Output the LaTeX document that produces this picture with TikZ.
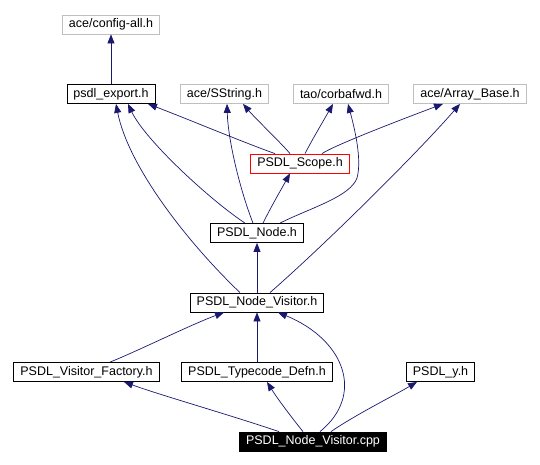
\documentclass[tikz,border=0pt]{standalone}
\usepackage{fontspec}
\setmainfont{Liberation Sans}
\usepackage{tikz}
\usetikzlibrary{arrows.meta, positioning, calc}
\definecolor{incblue}{HTML}{191970}
\definecolor{extgrey}{HTML}{BFBFBF}
\definecolor{scopered}{HTML}{FF0000}

\begin{document}
\begin{tikzpicture}[
  x=1pt, y=-1pt,
  every node/.style={rectangle, inner xsep=6.5pt, inner ysep=0pt, minimum height=19pt, line width=0.8pt, font=\fontsize{12.5}{14}\selectfont},
  ext file/.style={draw=extgrey},
  own file/.style={draw=black},
  start file/.style={draw=scopered},
  main file/.style={draw=black, fill=black, text=white},
  include/.style={draw=incblue, line width=0.7pt, -{Triangle[length=9pt, width=7pt]}}
]
\useasboundingbox (0,0) rectangle (540,465);

% files
\node[ext file] (config) at (111,24.5) {ace/config-all.h};
\node[own file] (export) at (111,94) {psdl\_export.h};
\node[ext file] (sstring) at (224.5,94) {ace/SString.h};
\node[ext file] (corbafwd) at (341,94) {tao/corbafwd.h};
\node[ext file] (arraybase) at (470,94) {ace/Array\_Base.h};
\node[start file] (scope) at (300,163.5) {PSDL\_Scope.h};
\node[own file] (psdlnode) at (257,233) {PSDL\_Node.h};
\node[own file] (visitor) at (257,302.5) {PSDL\_Node\_Visitor.h};
\node[own file] (factory) at (86.5,372) {PSDL\_Visitor\_Factory.h};
\node[own file] (typecode) at (257,372) {PSDL\_Typecode\_Defn.h};
\node[own file] (psdly) at (440.5,372) {PSDL\_y.h};
\node[main file] (cpp) at (313,441.5) {PSDL\_Node\_Visitor.cpp};

% includes
\draw[include] (export) -- (config);
\draw[include] ([xshift=-25pt]scope.north) .. controls (245,143) and (185,118) .. ([xshift=37pt]export.south);
\draw[include] ([xshift=-10pt]scope.north) .. controls (283,145) and (255,118) .. ([xshift=18.5pt]sstring.south);
\draw[include] ([xshift=5pt]scope.north) .. controls (312,140) and (325,118) .. ([xshift=-8pt]corbafwd.south);
\draw[include] ([xshift=22pt]scope.north) .. controls (335,145) and (400,120) .. ([xshift=-27pt]arraybase.south);
\draw[include] ([xshift=-12pt]psdlnode.north) .. controls (210,200) and (145,140) .. ([xshift=17pt]export.south);
\draw[include] ([xshift=-4pt]psdlnode.north) .. controls (240,190) and (228,140) .. ([xshift=2.5pt]sstring.south);
\draw[include] ([xshift=6pt]psdlnode.north) .. controls (272,205) and (282,188) .. ([xshift=-10pt]scope.south);
\draw[include] ([xshift=23pt]psdlnode.north) .. controls (310,208) and (350,197) .. (357,178)
  .. controls (362,160) and (355,130) .. ([xshift=7pt]corbafwd.south);
\draw[include] (visitor) -- (psdlnode);
\draw[include] ([xshift=-17pt]visitor.north) .. controls (185,240) and (128,165) .. ([xshift=5pt]export.south);
\draw[include] ([xshift=13pt]visitor.north) .. controls (330,240) and (420,150) .. ([xshift=-10pt]arraybase.south);
\draw[include] ([xshift=23.5pt]factory.north) .. controls (140,350) and (190,325) .. ([xshift=-33pt]visitor.south);
\draw[include] (typecode) -- (visitor);
\draw[include] ([xshift=7pt]cpp.north) .. controls (365,395) and (345,340) .. ([xshift=21pt]visitor.south);
\draw[include] ([xshift=-34pt]cpp.north) .. controls (230,415) and (160,395) .. ([xshift=37.5pt]factory.south);
\draw[include] ([xshift=-10pt]cpp.north) .. controls (292,418) and (277,398) .. ([xshift=10pt]typecode.south);
\draw[include] ([xshift=18pt]cpp.north) .. controls (355,415) and (395,395) .. ([xshift=-23.5pt]psdly.south);
\end{tikzpicture}
\end{document}
